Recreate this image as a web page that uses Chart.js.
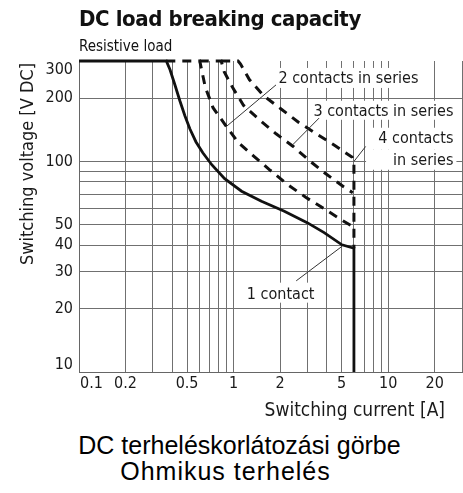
<!DOCTYPE html>
<html lang="en">
<head>
<meta charset="utf-8">
<title>DC load breaking capacity</title>
<script src="https://cdn.jsdelivr.net/npm/chart.js@4.4.1/dist/chart.umd.min.js"></script>
<style>
  html, body { margin: 0; padding: 0; background: #fff; }
  #wrap { position: relative; width: 463px; height: 493px; overflow: hidden; }
  #myChart { position: absolute; left: 0; top: 0; }
  .head { position: absolute; left: 79px; color: #111; white-space: nowrap;
          font-family: 'DejaVu Sans Condensed', 'Liberation Sans Narrow', sans-serif; }
  #title { top: 8px; font-size: 22px; line-height: 22px; font-weight: bold; letter-spacing: -0.4px; }
  #subtitle { top: 39px; font-size: 15px; line-height: 15px; }
  .caption { position: absolute; color: #000; white-space: nowrap; text-align: center;
             font-family: 'Liberation Sans', Arial, sans-serif; font-size: 25px; line-height: 25px; }
  #cap1 { top: 433px; left: 8px; width: 463px; }
  #cap2 { top: 459px; left: -6px; width: 463px; letter-spacing: 1px; }
</style>
</head>
<body>
<div id="wrap">
  <canvas id="myChart" width="463" height="430"></canvas>
  <div class="head" id="title">DC load breaking capacity</div>
  <div class="head" id="subtitle">Resistive load</div>
  <div class="caption" id="cap1">DC terheléskorlátozási görbe</div>
  <div class="caption" id="cap2">Ohmikus terhelés</div>
</div>
<script>
// axis ticks / grid
const xTickLabels = [0.1, 0.2, 0.5, 1, 2, 5, 10, 20];
const yTickLabels = [10, 20, 30, 40, 50, 100, 200, 300];
const xGridLines = [0.2, 0.3, 0.4, 0.5, 0.6, 0.7, 0.8, 0.9, 1, 2, 3, 4, 5, 6, 7, 8, 9, 10, 20, 30];
const yGridLines = [20, 30, 40, 50, 60, 70, 80, 90, 100, 200];

// 1 contact
const oneContactCurrent = [0.1, 0.367, 0.388, 0.417, 0.449, 0.484, 0.521, 0.570, 0.632, 0.722, 0.875, 1.126, 1.514, 2.128, 2.99, 3.85, 5.02, 6.0, 6.0];
const oneContactVoltage = [300, 300, 272.5, 231.3, 194.2, 164.8, 143.0, 124.1, 110.0, 96.5, 82.8, 72.2, 64.7, 58.0, 51.2, 45.9, 40.2, 38.7, 10];

// 2 contacts in series
const twoContactsCurrent = [0.367, 0.604, 0.656, 0.736, 0.898, 1.066, 1.331, 1.724, 2.235, 2.926, 3.85, 5.05, 5.9];
const twoContactsVoltage = [300, 300, 225, 180, 146.6, 123.4, 107, 90.8, 77.7, 67.6, 59.6, 52.5, 49];

// 3 contacts in series
const threeContactsCurrent = [0.604, 0.831, 0.869, 0.99, 1.16, 1.485, 1.882, 2.43, 3.08, 3.95, 5.17, 5.9];
const threeContactsVoltage = [300, 300, 266.7, 223, 184.5, 156.5, 135.3, 117.8, 101.1, 87.4, 75.6, 71];

// 4 contacts in series
const fourContactsCurrent = [0.831, 1.069, 1.109, 1.267, 1.56, 2.027, 2.626, 3.44, 4.515, 5.85, 6.0, 6.0];
const fourContactsVoltage = [300, 300, 290, 244.3, 205.5, 177.6, 153.5, 135.1, 119, 104.7, 100, 38.7];

const TICK_FONT = "16px 'DejaVu Sans Condensed', 'Liberation Sans Narrow', sans-serif";
const LABEL_FONT = "16px 'DejaVu Sans Condensed', 'Liberation Sans Narrow', sans-serif";
const AXIS_FONT = "19px 'DejaVu Sans Condensed', 'Liberation Sans Narrow', sans-serif";
const Y_AXIS_FONT = "18px 'DejaVu Sans Condensed', 'Liberation Sans Narrow', sans-serif";
const TEXT_COLOR = '#1a1a1a';

// curve labels, anchored in chart units (current, voltage); box = white backing [left, above, right, below]
const curveLabels = [
  { text: '2 contacts in series', at: [1.95, 236], align: 'left', box: [3, 15, 3, 5] },
  { text: '3 contacts in series', at: [26.4, 164.8], align: 'right', box: [3, 15, 3, 4] },
  { text: '4 contacts', at: [26.4, 122.7], align: 'right', box: [12, 15, 3, 7] },
  { text: 'in series', at: [26.4, 96.5], align: 'right', box: [27, 15, 3, 5] },
  { text: '1 contact', at: [1.218, 22.3], align: 'left', box: [3, 16, 3, 4] }
];
const leaderLines = [
  [[1.88, 231], [0.898, 146.6]],
  [[3.57, 160.7], [2.41, 120]],
  [[7.14, 117.8], [6.0, 100]],
  [[2.54, 27.1], [5.04, 39.6]]
];

function toPoints(xs, ys) {
  return xs.map((x, i) => ({ x: x, y: ys[i] }));
}

function labelRect(chart, l, ctx) {
  const x = chart.scales.x.getPixelForValue(l.at[0]);
  const y = chart.scales.y.getPixelForValue(l.at[1]);
  const w = ctx.measureText(l.text).width;
  const left = l.align === 'left' ? x : x - w;
  return { tx: x, ty: y, x: left - l.box[0], y: y - l.box[1], w: w + l.box[0] + l.box[2], h: l.box[1] + l.box[3] };
}

const annotations = {
  id: 'annotations',
  beforeDatasetsDraw(chart) {
    const ctx = chart.ctx;
    ctx.save();
    ctx.font = LABEL_FONT;
    ctx.fillStyle = '#fff';
    curveLabels.forEach(l => {
      const r = labelRect(chart, l, ctx);
      ctx.fillRect(r.x, r.y, r.w, r.h);
    });
    ctx.restore();
  },
  afterDatasetsDraw(chart) {
    const ctx = chart.ctx;
    const xs = chart.scales.x, ys = chart.scales.y;
    ctx.save();
    ctx.strokeStyle = '#333';
    ctx.lineWidth = 1;
    leaderLines.forEach(seg => {
      ctx.beginPath();
      ctx.moveTo(xs.getPixelForValue(seg[0][0]), ys.getPixelForValue(seg[0][1]));
      ctx.lineTo(xs.getPixelForValue(seg[1][0]), ys.getPixelForValue(seg[1][1]));
      ctx.stroke();
    });
    ctx.font = LABEL_FONT;
    ctx.fillStyle = TEXT_COLOR;
    ctx.textBaseline = 'alphabetic';
    curveLabels.forEach(l => {
      const r = labelRect(chart, l, ctx);
      ctx.textAlign = l.align;
      ctx.fillText(l.text, r.tx, r.ty);
    });
    ctx.restore();
  },
  afterDraw(chart) {
    const ctx = chart.ctx;
    const area = chart.chartArea;
    const xs = chart.scales.x, ys = chart.scales.y;
    ctx.save();
    ctx.font = TICK_FONT;
    ctx.fillStyle = TEXT_COLOR;
    ctx.textBaseline = 'middle';
    ctx.textAlign = 'center';
    xTickLabels.forEach(v => {
      const t = String(v);
      const w = ctx.measureText(t).width;
      const x = Math.max(xs.getPixelForValue(v), area.left + w / 2 + 1);
      ctx.fillText(t, x, area.bottom + 12);
    });
    ctx.textAlign = 'right';
    yTickLabels.forEach(v => {
      let y = ys.getPixelForValue(v);
      y = Math.min(Math.max(y, area.top + 9), area.bottom - 7);
      ctx.fillText(String(v), area.left - 6, y);
    });
    // axis titles
    ctx.font = AXIS_FONT;
    ctx.textAlign = 'right';
    ctx.textBaseline = 'alphabetic';
    ctx.fillText('Switching current [A]', 445, area.bottom + 44);
    ctx.font = Y_AXIS_FONT;
    ctx.translate(33, area.top + 2);
    ctx.rotate(-Math.PI / 2);
    ctx.fillText('Switching voltage [V DC]', 0, 0);
    ctx.restore();
  }
};

const ctx = document.getElementById('myChart');

new Chart(ctx, {
  type: 'line',
  data: {
    datasets: [
      {
        label: '1 contact',
        data: toPoints(oneContactCurrent, oneContactVoltage),
        borderColor: '#111',
        borderWidth: 2.8,
        pointRadius: 0,
        tension: 0,
        clip: 6
      },
      {
        label: '2 contacts in series',
        data: toPoints(twoContactsCurrent, twoContactsVoltage),
        borderColor: '#111',
        borderWidth: 3,
        borderDash: [9, 7],
        pointRadius: 0,
        tension: 0,
        clip: 6
      },
      {
        label: '3 contacts in series',
        data: toPoints(threeContactsCurrent, threeContactsVoltage),
        borderColor: '#111',
        borderWidth: 3,
        borderDash: [9, 7],
        pointRadius: 0,
        tension: 0,
        clip: 6
      },
      {
        label: '4 contacts in series',
        data: toPoints(fourContactsCurrent, fourContactsVoltage),
        borderColor: '#111',
        borderWidth: 3,
        borderDash: [9, 7],
        pointRadius: 0,
        tension: 0,
        clip: 6
      }
    ]
  },
  options: {
    responsive: false,
    animation: false,
    layout: { padding: { top: 61, right: 1, left: 0, bottom: 0 } },
    plugins: {
      legend: { display: false },
      tooltip: { enabled: false }
    },
    scales: {
      x: {
        type: 'logarithmic',
        min: 0.1,
        max: 30,
        bounds: 'data',
        afterBuildTicks: s => { s.ticks = xGridLines.map(v => ({ value: v })); },
        afterFit: s => { s.height = 58; },
        ticks: { display: false },
        grid: { color: '#707070', lineWidth: 1, drawTicks: false },
        border: { color: '#666', width: 1 }
      },
      y: {
        type: 'logarithmic',
        min: 10,
        max: 300,
        bounds: 'data',
        afterBuildTicks: s => { s.ticks = yGridLines.map(v => ({ value: v })); },
        afterFit: s => { s.width = 79; },
        ticks: { display: false },
        grid: { color: '#707070', lineWidth: 1, drawTicks: false },
        border: { color: '#666', width: 1 }
      }
    }
  },
  plugins: [annotations]
});
</script>
</body>
</html>
